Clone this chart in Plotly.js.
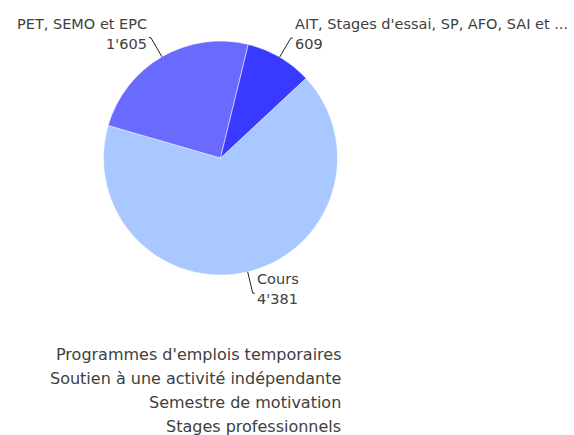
<!DOCTYPE html>
<html>
<head>
<meta charset="utf-8">
<script src="https://cdn.plot.ly/plotly-3.0.1.min.js"></script>
<style>html,body{margin:0;padding:0;background:#fff;}#chart{width:574px;height:435px;}</style>
</head>
<body>
<div id="chart"></div>
<script>
// ---- data ----
var categories = ["Cours", "PET, SEMO et EPC", "AIT, Stages d'essai, SP, AFO, SAI et ..."];
var values = [4381, 1605, 609];
var footnoteLines = [
  "Programmes d'emplois temporaires",
  "Soutien à une activité indépendante",
  "Semestre de motivation",
  "Stages professionnels"
];

// ---- style ----
var W = 574, H = 435;
var colors = ["#a8c8ff", "#6a6aff", "#3939ff"];
var textColor = "#404040";
var font = "Tahoma, 'DejaVu Sans', Verdana, sans-serif";
var rotation = 47;
var domX = [0.1803, 0.5880], domY = [0.3678, 0.9057];

function fmt(v) { return String(v).replace(/\B(?=(\d{3})+(?!\d))/g, "'"); }

var cx = (domX[0] + domX[1]) / 2 * W;
var cy = H - (domY[0] + domY[1]) / 2 * H;
var r = Math.min((domX[1] - domX[0]) * W, (domY[1] - domY[0]) * H) / 2;

var total = values.reduce(function (a, b) { return a + b; }, 0);
var shapes = [], annotations = [];
var acc = 0;
function px(x) { return x / W; }
function py(y) { return 1 - y / H; }
for (var i = 0; i < values.length; i++) {
  var mid = (rotation + (acc + values[i] / 2) / total * 360) * Math.PI / 180;
  acc += values[i];
  var dx = Math.sin(mid), dy = -Math.cos(mid);
  var sx = cx + r * dx, sy = cy + r * dy;
  var ex = cx + (r + 22) * dx, ey = cy + (r + 22) * dy;
  var right = dx >= 0;
  var hx = ex + (right ? 2 : -2);
  shapes.push({type: "path", xref: "paper", yref: "paper",
    path: "M" + px(sx) + "," + py(sy) + " L" + px(ex) + "," + py(ey) + " L" + px(hx) + "," + py(ey),
    line: {color: "#222", width: 1}});
  var tx = ex + (right ? 2 : -2);
  var tc = ey - 4;
  [categories[i], fmt(values[i])].forEach(function (t, k) {
    annotations.push({xref: "paper", yref: "paper", x: px(tx), y: py(tc + (k === 0 ? -10 : 10)),
      xanchor: right ? "left" : "right", yanchor: "middle", showarrow: false,
      text: t, font: {family: font, size: 14.5, color: textColor}});
  });
}
footnoteLines.forEach(function (t, k) {
  annotations.push({xref: "paper", yref: "paper", x: px(343), y: py(354.5 + 24 * k),
    xanchor: "right", yanchor: "middle", showarrow: false, align: "right",
    text: t, font: {family: font, size: 16, color: textColor}});
});

var trace = {
  type: "pie",
  labels: categories,
  values: values,
  sort: false,
  direction: "clockwise",
  rotation: rotation,
  textinfo: "none",
  hoverinfo: "label+value",
  marker: {colors: colors, line: {color: "#ffffff", width: 0.5}},
  domain: {x: domX, y: domY},
  showlegend: false
};

Plotly.newPlot("chart", [trace], {
  width: W, height: H,
  margin: {l: 0, r: 0, t: 0, b: 0},
  paper_bgcolor: "#ffffff",
  showlegend: false,
  shapes: shapes,
  annotations: annotations
}, {displayModeBar: false, staticPlot: true});
</script>
</body>
</html>
